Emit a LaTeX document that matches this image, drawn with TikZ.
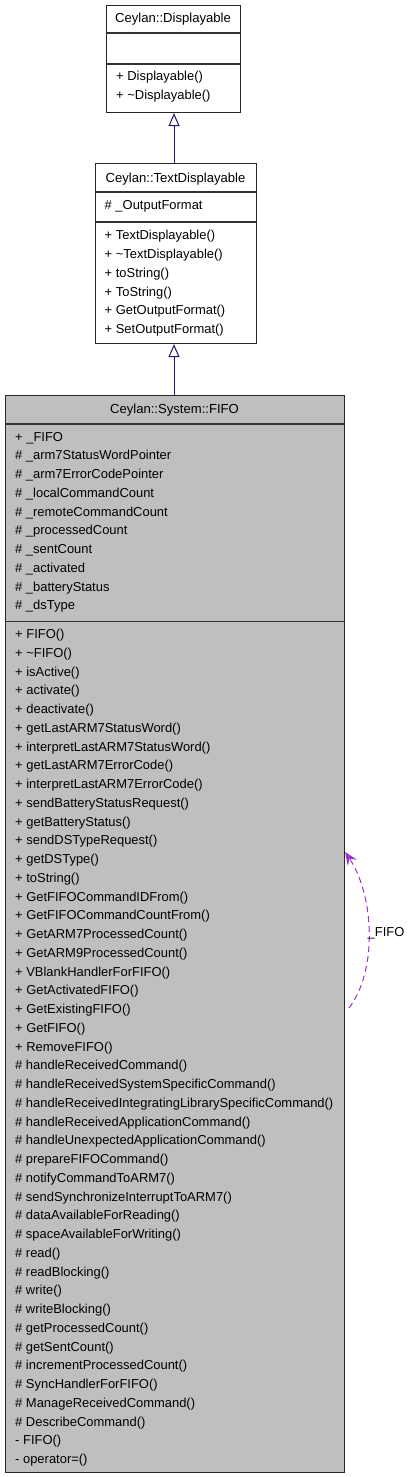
\documentclass[tikz,border=0pt]{standalone}
\usepackage{fontspec}
\setmainfont{Liberation Sans}
\usetikzlibrary{arrows.meta}
\definecolor{fifogray}{HTML}{BFBFBF}
\definecolor{inhblue}{HTML}{191970}
\definecolor{usepurple}{HTML}{9A32CD}
\tikzset{
  cls/.style={draw=black!85, line width=1.1pt, rectangle, anchor=north west, inner sep=0pt},
  sepline/.style={draw=black!80, line width=1.3pt},
  txt/.style={anchor=base west, inner sep=0pt, font=\fontsize{12.95}{16}\selectfont},
  ttl/.style={anchor=base, inner sep=0pt, font=\fontsize{13.1}{16}\selectfont},
  inh/.style={draw=inhblue, line width=1pt, -{Triangle[open, length=13pt, width=11pt, fill=white]}},
  selfuse/.style={draw=usepurple, line width=1pt, dash pattern=on 6pt off 4pt, -{Stealth[length=13pt, width=11pt, inset=5pt, sep=0pt]}},
}
\begin{document}
\begin{tikzpicture}[x=1pt, y=-1pt]
\useasboundingbox (0,0) rectangle (411,1477);
% ---------- Displayable ----------
\node[cls, fill=white, minimum width=134, minimum height=107] (disp) at (106,5) {};
\node[ttl] (dispt) at (173,23) {Ceylan::Displayable};
\draw[sepline] (disp.west |- 0,33) -- (disp.east |- 0,33);
\draw[sepline] (disp.west |- 0,64) -- (disp.east |- 0,64);
\node[txt] (d1) at (116,81) {+ Displayable()};
\node[txt] (d2) at (116,100) {+ \textasciitilde Displayable()};
% ---------- TextDisplayable ----------
\node[cls, fill=white, minimum width=161, minimum height=180] (td) at (95,163) {};
\node[ttl] (tdt) at (175.5,182) {Ceylan::TextDisplayable};
\draw[sepline] (td.west |- 0,192) -- (td.east |- 0,192);
\node[txt] (ta1) at (104.5,209) {\# \_OutputFormat};
\draw[sepline] (td.west |- 0,222) -- (td.east |- 0,222);
\foreach \t [count=\i from 0] in {%
  + TextDisplayable(),%
  + \textasciitilde TextDisplayable(),%
  + toString(),%
  + ToString(),%
  + GetOutputFormat(),%
  + SetOutputFormat()} {
  \node[txt] (tm\i) at (104.5,{239.5+18.85*\i}) {\t};
}
% ---------- FIFO ----------
\node[cls, fill=fifogray, minimum width=339, minimum height=1077] (fifo) at (5,395) {};
\node[ttl] (fifot) at (174.5,413) {Ceylan::System::FIFO};
\draw[sepline] (fifo.west |- 0,424) -- (fifo.east |- 0,424);
\foreach \t [count=\i from 0] in {%
  + \_FIFO,%
  \# \_arm7StatusWordPointer,%
  \# \_arm7ErrorCodePointer,%
  \# \_localCommandCount,%
  \# \_remoteCommandCount,%
  \# \_processedCount,%
  \# \_sentCount,%
  \# \_activated,%
  \# \_batteryStatus,%
  \# \_dsType} {
  \node[txt] (fa\i) at (15,{441+18.77*\i}) {\t};
}
\draw[sepline] (fifo.west |- 0,621.5) -- (fifo.east |- 0,621.5);
\foreach \t [count=\i from 0] in {%
  + FIFO(),%
  + \textasciitilde FIFO(),%
  + isActive(),%
  + activate(),%
  + deactivate(),%
  + getLastARM7StatusWord(),%
  + interpretLastARM7StatusWord(),%
  + getLastARM7ErrorCode(),%
  + interpretLastARM7ErrorCode(),%
  + sendBatteryStatusRequest(),%
  + getBatteryStatus(),%
  + sendDSTypeRequest(),%
  + getDSType(),%
  + toString(),%
  + GetFIFOCommandIDFrom(),%
  + GetFIFOCommandCountFrom(),%
  + GetARM7ProcessedCount(),%
  + GetARM9ProcessedCount(),%
  + VBlankHandlerForFIFO(),%
  + GetActivatedFIFO(),%
  + GetExistingFIFO(),%
  + GetFIFO(),%
  + RemoveFIFO(),%
  \# handleReceivedCommand(),%
  \# handleReceivedSystemSpecificCommand(),%
  \# handleReceivedIntegratingLibrarySpecificCommand(),%
  \# handleReceivedApplicationCommand(),%
  \# handleUnexpectedApplicationCommand(),%
  \# prepareFIFOCommand(),%
  \# notifyCommandToARM7(),%
  \# sendSynchronizeInterruptToARM7(),%
  \# dataAvailableForReading(),%
  \# spaceAvailableForWriting(),%
  \# read(),%
  \# readBlocking(),%
  \# write(),%
  \# writeBlocking(),%
  \# getProcessedCount(),%
  \# getSentCount(),%
  \# incrementProcessedCount(),%
  \# SyncHandlerForFIFO(),%
  \# ManageReceivedCommand(),%
  \# DescribeCommand(),%
  - FIFO(),%
  - operator=()} {
  \node[txt] (fm\i) at (15,{638.5+18.75*\i}) {\t};
}
% ---------- connectors ----------
\draw[inh] (td.north -| 174,0) -- (disp.south -| 174,0);
\draw[inh] (fifo.north -| 174,0) -- (td.south -| 174,0);
\coordinate (loopstart) at (349,1008);
\coordinate (loopend) at (fifo.east |- 0,852);
\draw[selfuse] (loopstart) .. controls (378,970) and (374,895) .. (loopend);
\node[txt] (looplbl) at (367.5,936.5) {\_FIFO};
\end{tikzpicture}
\end{document}
